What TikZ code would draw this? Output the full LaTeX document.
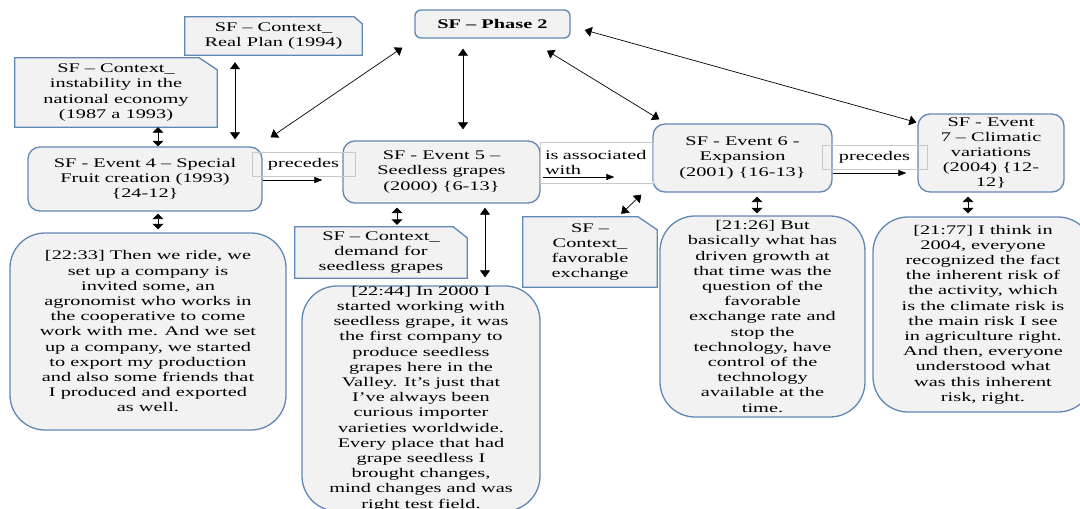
\documentclass[tikz,border=0pt]{standalone}
\usepackage{fontspec}
\setmainfont{Liberation Serif}[FakeStretch=1.54]
\usetikzlibrary{arrows.meta,backgrounds}
\definecolor{bcol}{RGB}{96,136,180}
\definecolor{fcol}{RGB}{242,242,242}
\definecolor{lgray}{RGB}{200,200,200}
\tikzset{
  base/.style={font=\fontsize{13.2}{15.2}\selectfont, align=center, inner sep=0pt, text=black},
  evbox/.style={base, draw=bcol, line width=1.3pt, fill=fcol, rounded corners=12pt},
  notebox/.style={base, draw=bcol, line width=1.3pt, fill=fcol, rounded corners=35pt},
  ctxtext/.style={base},
  ctxshape/.style={draw=bcol, line width=1.3pt, fill=fcol},
  lblbox/.style={base, draw=lgray, line width=0.8pt},
  dba/.style={{Triangle[length=7pt,width=10pt]}-{Triangle[length=7pt,width=10pt]}, line width=0.7pt},
  dbs/.style={{Triangle[length=5.5pt,width=11pt]}-{Triangle[length=5.5pt,width=11pt]}, line width=0.9pt},
  sa/.style={-{Triangle[length=8pt,width=6pt]}, line width=0.7pt},
}
\begin{document}
\begin{tikzpicture}[x=1pt,y=-1pt]
\useasboundingbox (0,0) rectangle (1080,509);
\begin{scope}[on background layer]
\fill[white] (0,0) rectangle (1080,509);
\end{scope}
\clip (0,0) rectangle (1080,509);

% top / phase
\node[evbox, rounded corners=6pt, minimum width=155pt, minimum height=28pt] (phase) at (492.5,24) {\textbf{SF – Phase 2}};

% context boxes (text nodes; shapes on background layer)
\node[ctxtext, minimum width=177pt, minimum height=38pt] (realplan) at (273.5,36) {SF – Context\_\\Real Plan (1994)};
\node[ctxtext, minimum width=202pt, minimum height=69pt] (instab) at (116,92.5) {SF – Context\_\\instability in the\\national economy\\(1987 a 1993)};
\node[ctxtext, minimum width=172pt, minimum height=51pt] (demand) at (381,252.5) {SF – Context\_\\demand for\\seedless grapes};
\node[ctxtext, minimum width=134pt, minimum height=70pt] (favor) at (590,252) {SF –\\Context\_\\favorable\\exchange};

% events
\node[evbox, minimum width=234pt, minimum height=64pt] (ev4) at (145,179) {SF - Event 4 – Special\\Fruit creation (1993)\\\{24-12\}};
\node[evbox, minimum width=197pt, minimum height=62pt] (ev5) at (441.5,172) {SF - Event 5 –\\Seedless grapes\\(2000) \{6-13\}};
\node[evbox, minimum width=179pt, minimum height=68pt] (ev6) at (742.5,158) {SF - Event 6 -\\Expansion\\(2001) \{16-13\}};
\node[evbox, minimum width=146pt, minimum height=78pt] (ev7) at (991,153) {SF - Event\\7 – Climatic\\variations\\(2004) \{12-\\12\}};

% notes
\node[notebox, minimum width=276pt, minimum height=197pt] (note1) at (148,331.5) {[22:33] Then we ride, we\\set up a company is\\invited some, an\\agronomist who works in\\the cooperative to come\\work with me. And we set\\up a company, we started\\to export my production\\and also some friends that\\I produced and exported\\as well.};
\node[notebox, minimum width=238pt, minimum height=225pt] (note2) at (421,398.5) {[22:44] In 2000 I\\started working with\\seedless grape, it was\\the first company to\\produce seedless\\grapes here in the\\Valley. It's just that\\I've always been\\curious importer\\varieties worldwide.\\Every place that had\\grape seedless I\\brought changes,\\mind changes and was\\right test field.};
\node[notebox, minimum width=205pt, minimum height=201pt] (note3) at (762.5,316.5) {[21:26] But\\basically what has\\driven growth at\\that time was the\\question of the\\favorable\\exchange rate and\\stop the\\technology, have\\control of the\\technology\\available at the\\time.};
\node[notebox, minimum width=220pt, minimum height=195pt] (note4) at (983,314.5) {[21:77] I think in\\2004, everyone\\recognized the fact\\the inherent risk of\\the activity, which\\is the climate risk is\\the main risk I see\\in agriculture right.\\And then, everyone\\understood what\\was this inherent\\risk, right.};

% chamfered context shapes
\begin{scope}[on background layer]
\draw[ctxshape] (realplan.south west) -- (realplan.north west) -- ([xshift=-8pt]realplan.north east) -- ([yshift=-7pt]realplan.north east) -- (realplan.south east) -- cycle;
\draw[ctxshape] (instab.south west) -- (instab.north west) -- ([xshift=-18pt]instab.north east) -- ([yshift=-12pt]instab.north east) -- (instab.south east) -- cycle;
\draw[ctxshape] (demand.south west) -- (demand.north west) -- ([xshift=-14pt]demand.north east) -- ([yshift=-11pt]demand.north east) -- (demand.south east) -- cycle;
\draw[ctxshape] (favor.south west) -- (favor.north west) -- ([xshift=-19pt]favor.north east) -- ([yshift=-13pt]favor.north east) -- (favor.south east) -- cycle;
\end{scope}

% relation labels
\node[lblbox, minimum width=103pt, minimum height=24pt] (prec1) at (303.5,164) {precedes};
\node[lblbox, text width=103pt, align=left, inner xsep=5pt, minimum height=41pt] (assoc) at (596.5,162.5) {is associated\\with};
\node[lblbox, minimum width=105pt, minimum height=24pt] (prec2) at (874.5,157) {precedes};

% single arrows
\draw[sa, shorten >=20pt] ([yshift=-1pt]ev4.east) -- ([yshift=-1pt]ev4.east -| ev5.west);
\draw[sa, shorten <=2pt, shorten >=38pt] ([yshift=-5pt]ev5.east) -- ([yshift=-5pt]ev5.east -| ev6.west);
\draw[sa, shorten >=11pt] ([yshift=-15pt]ev6.east) -- ([yshift=-15pt]ev6.east -| ev7.west);

% double arrows
\draw[dba, shorten <=7pt, shorten >=7pt] ([xshift=-38.5pt]realplan.south) -- ([xshift=-38.5pt]realplan.south |- ev4.north);
\draw[dbs] ([xshift=42pt]instab.south) -- ([xshift=42pt]instab.south |- ev4.north);
\draw[dba] ([shift={(-12pt,-9pt)}]phase.south west) -- ([shift={(8pt,9pt)}]ev4.north east);
\draw[dba, shorten <=10pt, shorten >=11pt] ([xshift=-29.5pt]phase.south) -- ([xshift=-29.5pt]phase.south |- ev5.north);
\draw[dba] ([shift={(54.5pt,-12pt)}]phase.south) -- ([shift={(7pt,4pt)}]ev6.north west);
\draw[dba] ([shift={(14pt,-6pt)}]phase.east) -- ([shift={(-1pt,-9pt)}]ev7.north west);
\draw[dbs, shorten <=2pt, shorten >=3pt] ([xshift=13pt]ev4.south) -- ([xshift=13pt]ev4.south |- note1.north);
\draw[dbs, shorten <=4pt, shorten >=2pt] ([xshift=-44.5pt]ev5.south) -- ([xshift=-44.5pt]ev5.south |- demand.north);
\draw[dba, shorten <=4pt, shorten >=8pt] ([xshift=43.5pt]ev5.south) -- ([xshift=43.5pt]ev5.south |- note2.north);
\draw[dba] ([shift={(-11pt,-2pt)}]ev6.south west) -- ([shift={(-36pt,3pt)}]favor.north east);
\draw[dbs, shorten <=4pt, shorten >=2pt] ([xshift=14.5pt]ev6.south) -- ([xshift=14.5pt]ev6.south |- note3.north);
\draw[dbs, shorten <=4pt, shorten >=3pt] ([xshift=-23pt]ev7.south) -- ([xshift=-23pt]ev7.south |- note4.north);
\end{tikzpicture}
\end{document}
